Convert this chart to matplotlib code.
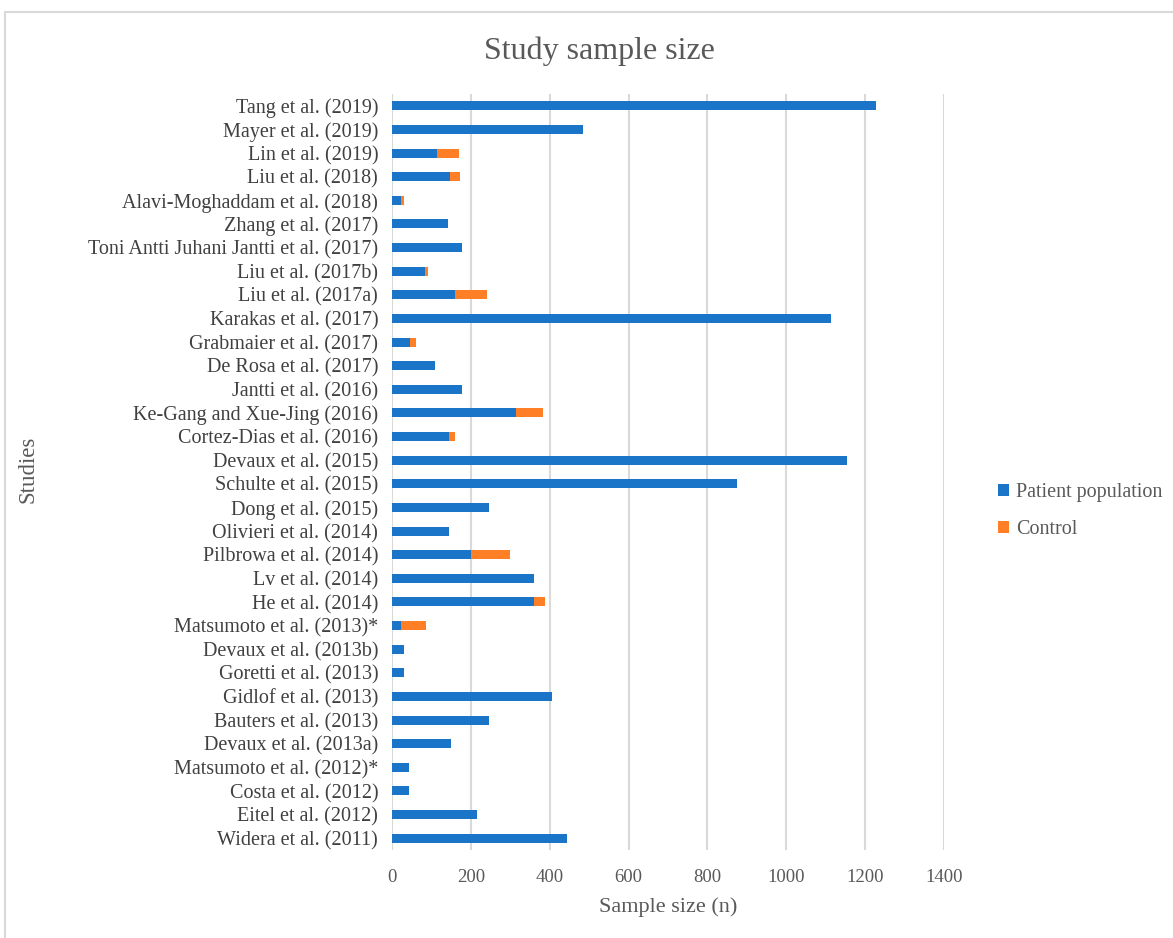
import numpy as np
import matplotlib
matplotlib.use("Agg")
import matplotlib.pyplot as plt
from matplotlib.patches import Rectangle

plt.rcParams["font.family"] = ["Liberation Serif", "DejaVu Serif"]

# top to bottom, as in the reference
studies = [
    "Tang et al. (2019)", "Mayer et al. (2019)", "Lin et al. (2019)", "Liu et al. (2018)",
    "Alavi-Moghaddam et al. (2018)", "Zhang et al. (2017)",
    "Toni Antti Juhani Jantti et al. (2017)", "Liu et al. (2017b)", "Liu et al. (2017a)",
    "Karakas et al. (2017)", "Grabmaier et al. (2017)", "De Rosa et al. (2017)",
    "Jantti et al. (2016)", "Ke-Gang and Xue-Jing (2016)", "Cortez-Dias et al. (2016)",
    "Devaux et al. (2015)", "Schulte et al. (2015)", "Dong et al. (2015)",
    "Olivieri et al. (2014)", "Pilbrowa et al. (2014)", "Lv et al. (2014)", "He et al. (2014)",
    "Matsumoto et al. (2013)*", "Devaux et al. (2013b)", "Goretti et al. (2013)",
    "Gidlof et al. (2013)", "Bauters et al. (2013)", "Devaux et al. (2013a)",
    "Matsumoto et al. (2012)*", "Costa et al. (2012)", "Eitel et al. (2012)",
    "Widera et al. (2011)",
]
patients = [1227, 485, 113, 148, 22, 141, 177, 83, 161, 1113, 45, 110, 178, 315, 144,
            1153, 875, 247, 144, 200, 360, 360, 22, 30, 30, 406, 247, 150, 42, 42, 215, 445]
controls = [0, 0, 57, 24, 8, 0, 0, 7, 80, 0, 17, 0, 0, 68, 17,
            0, 0, 0, 0, 100, 0, 29, 63, 0, 0, 0, 0, 0, 0, 0, 0, 0]
x_ticks = [0, 200, 400, 600, 800, 1000, 1200, 1400]

BLUE = "#1a75c9"
ORANGE = "#ff7f27"
GRID = "#d9d9d9"
TXT = "#595959"

fig = plt.figure(figsize=(11.73, 9.38), dpi=100)
fig.patches.append(Rectangle((0.004, -0.01), 1.0, 0.997, transform=fig.transFigure,
                             fill=False, edgecolor="#d9d9d9", lw=1.5))
ax = fig.add_axes([0.3342, 0.0938, 0.4706, 0.806])

y = np.arange(len(studies))
ax.barh(y, patients, height=0.38, color=BLUE, label="Patient population", zorder=3)
ax.barh(y, controls, left=patients, height=0.38, color=ORANGE, label="Control", zorder=3)

ax.set_ylim(len(studies) - 0.5, -0.5)
ax.set_xlim(0, 1400)
ax.set_xticks(x_ticks)
ax.set_yticks(y)
ax.set_yticklabels(studies, fontsize=14.5, color="#404040")
ax.tick_params(axis="x", labelsize=13.5, colors=TXT, length=0, pad=14)
ax.tick_params(axis="y", length=0, pad=10)
ax.grid(axis="x", color=GRID, lw=1.5, zorder=0)
for s in ax.spines.values():
    s.set_visible(False)

ax.set_xlabel("Sample size (n)", fontsize=16, color=TXT, labelpad=8)
fig.text(0.024, 0.5, "Studies", rotation=90, fontsize=16.5, color=TXT, va="center", ha="center")
fig.text(0.511, 0.945, "Study sample size", fontsize=23, color=TXT, ha="center", va="center")

ax.legend(loc="center left", bbox_to_anchor=(1.065, 0.448), frameon=False, fontsize=14.5,
          handlelength=0.55, handleheight=0.55, handletextpad=0.35, labelspacing=0.9,
          labelcolor=TXT)

fig.savefig("out.png", dpi=100)
